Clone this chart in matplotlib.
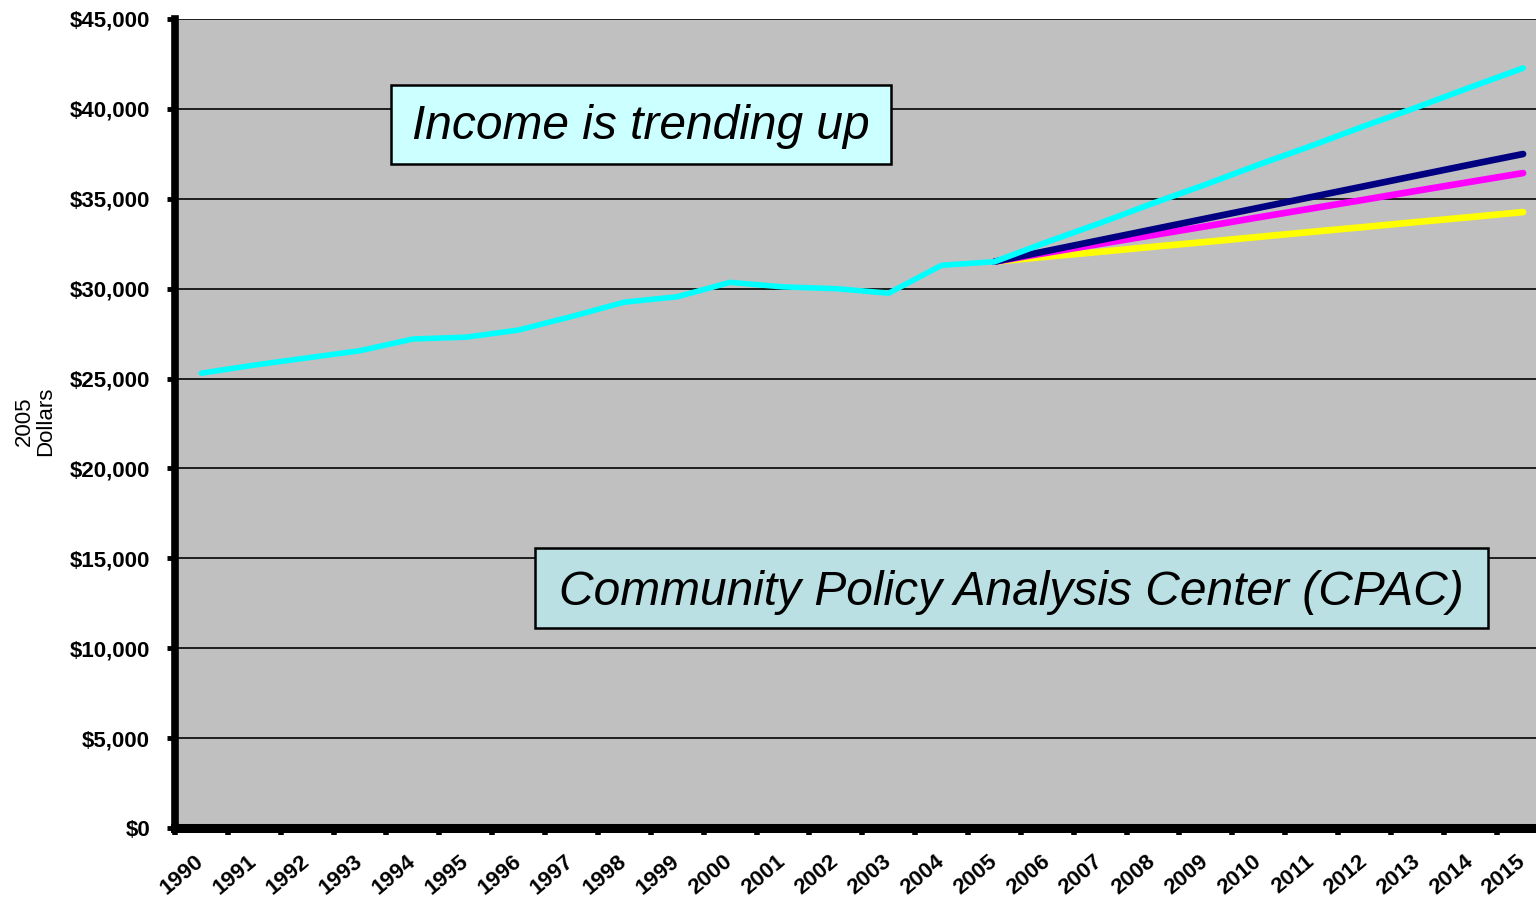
import matplotlib.pyplot as plt
from matplotlib.patches import Rectangle
from matplotlib.ticker import FixedLocator, FuncFormatter

plt.rcParams['font.family'] = ['Liberation Sans', 'DejaVu Sans']

years = list(range(1990, 2016))
hist_years = list(range(1990, 2006))
proj_years = list(range(2005, 2016))

# 2005 dollars
history = [25300, 25750, 26150, 26550, 27200, 27300, 27700, 28450,
           29250, 29550, 30350, 30100, 30000, 29750, 31300, 31500]
proj_high = [31500, 32600, 33650, 34750, 35800, 36900, 37950, 39050, 40100, 41200, 42270]
proj_mid_high = [31500, 32100, 32700, 33300, 33900, 34500, 35100, 35700, 36300, 36900, 37490]
proj_mid_low = [31500, 32000, 32490, 32980, 33470, 33970, 34460, 34950, 35450, 35940, 36430]
proj_low = [31500, 31780, 32050, 32330, 32600, 32880, 33160, 33430, 33710, 33980, 34260]

y_ticks = list(range(0, 45001, 5000))

W, H = 1536, 899
fig = plt.figure(figsize=(W / 100, H / 100), dpi=100)
ax = fig.add_axes([175 / W, 71 / H, (1549.5 - 175) / W, (828 - 19) / H])
ax.set_facecolor('#C0C0C0')

idx = {y: i for i, y in enumerate(years)}
hx = [idx[y] for y in hist_years]
px = [idx[y] for y in proj_years]

ax.plot(px, proj_low, color='#FFFF00', lw=4.8, solid_capstyle='round', zorder=3)
ax.plot(px, proj_mid_low, color='#FF00FF', lw=4.8, solid_capstyle='round', zorder=4)
ax.plot(px, proj_mid_high, color='#000080', lw=4.8, solid_capstyle='round', zorder=5)
ax.plot(px, proj_high, color='#00FFFF', lw=4.2, solid_capstyle='round', zorder=6)
ax.plot(hx, history, color='#00FFFF', lw=4.0, solid_capstyle='round', zorder=6)

ax.set_xlim(-0.5, len(years) - 0.5)
ax.set_ylim(0, 45000)

ax.set_yticks(y_ticks)
ax.yaxis.set_major_formatter(FuncFormatter(lambda v, p: '${:,.0f}'.format(v)))
ax.yaxis.grid(True, color='#111111', lw=1.3)
ax.set_axisbelow(True)

ax.set_xticks(range(len(years)))
ax.set_xticklabels([str(y) for y in years], rotation=40, ha='right',
                   va='center', rotation_mode='anchor')
ax.xaxis.set_minor_locator(FixedLocator([i - 0.5 for i in range(len(years) + 1)]))
ax.tick_params(axis='x', which='major', length=0, pad=22, labelsize=16)
ax.tick_params(axis='x', which='minor', length=5, width=4, color='black')
ax.tick_params(axis='y', length=6, width=3.5, pad=12, labelsize=16)
for lab in ax.get_xticklabels() + ax.get_yticklabels():
    lab.set_fontweight('bold')

for s in ['top', 'right']:
    ax.spines[s].set_visible(False)
ax.spines['left'].set_linewidth(5.5)
ax.spines['bottom'].set_linewidth(6.5)

fig.text(35 / W, 1 - 421 / H, '2005\nDollars', rotation=90, ha='center',
         va='center', fontsize=16, linespacing=1.0)

# annotation boxes
boxes = [
    ('Income is trending up', (391, 85, 891, 164), 139, '#CCFFFF'),
    ('Community Policy Analysis Center (CPAC)', (535, 548, 1488, 628), 605, '#BAE0E3'),
]
for txt, (x0, y0, x1, y1), base, fc in boxes:
    fig.patches.append(Rectangle((x0 / W, 1 - y1 / H), (x1 - x0) / W, (y1 - y0) / H,
                                 transform=fig.transFigure, facecolor=fc,
                                 edgecolor='black', lw=1.8, zorder=10))
    fig.text((x0 + x1) / 2 / W, 1 - base / H, txt, ha='center', va='baseline',
             fontsize=34.5, style='italic', zorder=11)

fig.savefig('out.png', dpi=100)
